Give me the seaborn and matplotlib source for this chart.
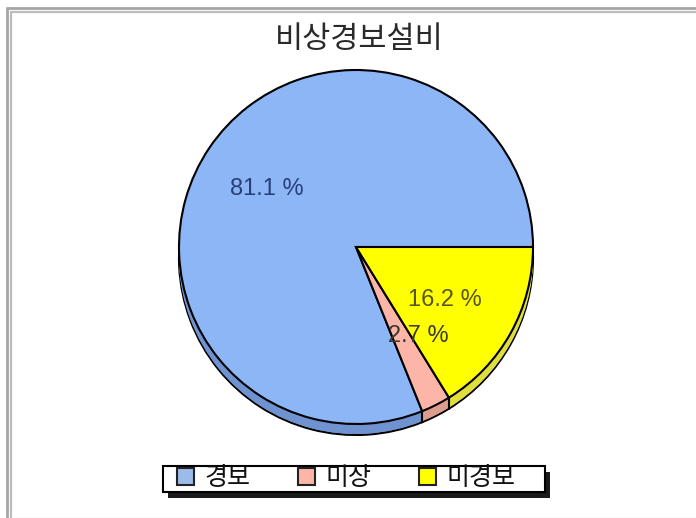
import numpy as np
import matplotlib.pyplot as plt
from matplotlib.patches import Rectangle
import seaborn as sns

title = '비상경보설비'
categories = ['경보', '미상', '미경보']
shares = [81.1, 2.7, 16.2]
pct_labels = ['81.1 %', '2.7 %', '16.2 %']

face_colors = ['#8DB6F6', '#FDB5A8', '#FFFF00']
side_colors = ['#6F92D0', '#DC9C8E', '#DEDE3C']
label_colors = ['#27407A', '#3A3A30', '#55561A']

W, H = 696, 518
cx, cy, r = 356, H - 247, 177
depth = 11

sns.set_theme(style='white')
plt.rcParams['font.family'] = ['Noto Sans CJK KR', 'DejaVu Sans']

fig = plt.figure(figsize=(W / 100, H / 100), dpi=100)
ax = fig.add_axes([0, 0, 1, 1])

# side wall: stacked pies, bottom one has the outline
ax.pie(shares, colors=side_colors, center=(cx, cy - depth), radius=r, startangle=0,
       frame=True, wedgeprops=dict(edgecolor='black', linewidth=1.5))
for d in range(depth - 1, 0, -1):
    ax.pie(shares, colors=side_colors, center=(cx, cy - d), radius=r, startangle=0,
           frame=True, wedgeprops=dict(linewidth=0))

wedges, _ = ax.pie(shares, colors=face_colors, center=(cx, cy), radius=r, startangle=0,
                   frame=True, wedgeprops=dict(edgecolor='black', linewidth=1.5))

# wall seams under the small slice
for w in wedges[:2]:
    a = np.deg2rad(w.theta2)
    x = cx + r * np.cos(a)
    y = cy + r * np.sin(a)
    ax.plot([x, x], [y, y - depth], color='black', lw=1.5)

ax.set_xlim(0, W)
ax.set_ylim(0, H)
ax.set_aspect('auto')
ax.axis('off')

# window style frame, open on the right
ax.plot([6.5, 6.5], [0, H - 7.5], color='#a6a6a6', lw=2)
ax.plot([6.5, W], [H - 7.5, H - 7.5], color='#a6a6a6', lw=2)
ax.plot([11, 11], [0, H - 11.5], color='#bcbcbc', lw=1.6)
ax.plot([11, W], [H - 11.5, H - 11.5], color='#bcbcbc', lw=1.6)
ax.plot([11, W], [0.5, 0.5], color='#e6e6e6', lw=1)

ax.text(359, H - 39, title, ha='center', va='center', fontsize=22, color='#2a2a2a')

label_font = ['Liberation Sans', 'DejaVu Sans']
label_pos = [(267, H - 189), (418, H - 336), (445, H - 300)]
for s, (x, y), c in zip(pct_labels, label_pos, label_colors):
    ax.text(x, y, s, ha='center', va='center', fontsize=17, family=label_font, color=c)

# legend box and its hard shadow
ax.add_patch(Rectangle((168, H - 498), 382, 26, fc='#1a1a1a', ec='none', zorder=4))
ax.add_patch(Rectangle((163, H - 492), 382, 26, fc='white', ec='black', lw=1.5, zorder=4.5))

handles = [Rectangle((0, 0), 1, 1, fc=c, ec='#222222', lw=1.5)
           for c in ['#9DBBEA', '#FDB5A8', '#FFFF00']]
ax.legend(handles, categories, loc='center', bbox_to_anchor=(346, H - 478),
          bbox_transform=ax.transData, ncol=3, frameon=False,
          prop={'family': ['Liberation Sans', 'Noto Sans CJK KR'], 'size': 18},
          borderpad=0, borderaxespad=0, handlelength=0.68, handleheight=0.65,
          handletextpad=0.42, columnspacing=1.9, labelcolor='#111111')

fig.savefig('out.png', dpi=100)
